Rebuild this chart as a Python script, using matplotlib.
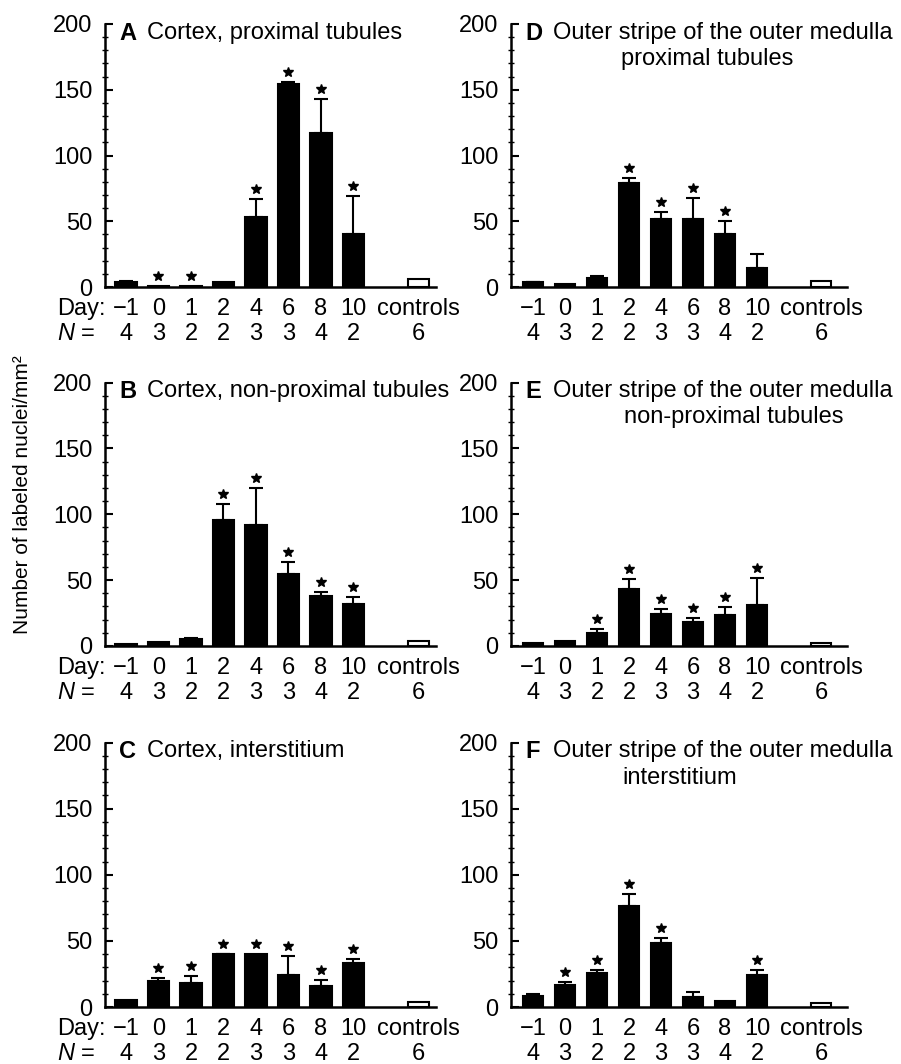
import matplotlib
matplotlib.use('Agg')
import matplotlib.pyplot as plt
from matplotlib.ticker import MultipleLocator
from matplotlib.transforms import offset_copy

plt.rcParams['font.family'] = ['Liberation Sans', 'DejaVu Sans']
plt.rcParams['mathtext.fontset'] = 'custom'
plt.rcParams['mathtext.rm'] = 'Liberation Sans'
plt.rcParams['mathtext.it'] = 'Liberation Sans:italic'

days = ['\u22121', '0', '1', '2', '4', '6', '8', '10', 'controls']
n_animals = [4, 3, 2, 2, 3, 3, 4, 2, 6]
xpos = [0, 1, 2, 3, 4, 5, 6, 7, 9]

# means and mean+SEM
a_mean = [4, 1, 0.5, 4, 53, 154, 117, 40, 6.3]
a_upper = [4.5, 1, 0.5, 4, 67, 156, 143, 69, 6.3]
a_star = [0, 1, 1, 0, 1, 1, 1, 1, 0]

b_mean = [1.3, 3.3, 5, 95.4, 92, 54.7, 38, 32, 3.8]
b_upper = [1.3, 3.3, 6, 108, 120, 64, 41, 37.5, 3.8]
b_star = [0, 0, 0, 1, 1, 1, 1, 1, 0]

c_mean = [5.3, 19.7, 18.2, 39.7, 40, 24, 16, 33.4, 3.8]
c_upper = [5.3, 22.3, 23.3, 40, 40, 38.2, 20.5, 36, 3.8]
c_star = [0, 1, 1, 1, 1, 1, 1, 1, 0]

d_mean = [3.5, 2, 6.5, 79, 51.5, 52, 40, 14.4, 4.8]
d_upper = [4, 2, 8.6, 83, 57, 68, 50, 25, 4.8]
d_star = [0, 0, 0, 1, 1, 1, 1, 0, 0]

e_mean = [2.5, 3.8, 9.8, 43.4, 24.5, 18.4, 23.5, 30.8, 2]
e_upper = [2.5, 3.8, 12.6, 50.5, 27.8, 21.2, 29.3, 51.5, 2]
e_star = [0, 0, 1, 1, 1, 1, 1, 1, 0]

f_mean = [8.4, 16.9, 25.6, 76.3, 48.4, 7.5, 4.5, 24.1, 3]
f_upper = [10, 18.6, 28, 85.5, 52.2, 11.2, 4.5, 27.8, 3]
f_star = [0, 1, 1, 1, 1, 0, 0, 1, 0]

W, H = 901, 1064
fig = plt.figure(figsize=(W / 100, H / 100), dpi=100)

PX = 72 / 100  # points per pixel

col_left = [105, 511]
col_right = [436, 847]
col_xlim = [(-0.646, 9.54), (-0.6875, 9.81)]
row_top = [24, 382.5, 742.5]
row_bot = [287, 646, 1007]

panels = [
    (0, 0, 'A', ['Cortex, proximal tubules'], a_mean, a_upper, a_star),
    (0, 1, 'B', ['Cortex, non-proximal tubules'], b_mean, b_upper, b_star),
    (0, 2, 'C', ['Cortex, interstitium'], c_mean, c_upper, c_star),
    (1, 0, 'D', ['Outer stripe of the outer medulla', 'proximal tubules'], d_mean, d_upper, d_star),
    (1, 1, 'E', ['Outer stripe of the outer medulla', 'non-proximal tubules'], e_mean, e_upper, e_star),
    (1, 2, 'F', ['Outer stripe of the outer medulla', 'interstitium'], f_mean, f_upper, f_star),
]
line2_center = {'D': 196, 'E': 223, 'F': 169}

for col, row, letter, title, mean, upper, star in panels:
    l, r = col_left[col], col_right[col]
    t, b = row_top[row], row_bot[row]
    ax = fig.add_axes([l / W, 1 - b / H, (r - l) / W, (b - t) / H])

    colors = ['black'] * 8 + ['white']
    ax.bar(xpos, mean, width=0.65, color=colors, edgecolor='black', linewidth=1.5, zorder=2)
    for x, m, u in zip(xpos, mean, upper):
        if u > m:
            ax.errorbar(x, m, yerr=[[0], [u - m]], fmt='none', ecolor='black',
                        elinewidth=1.5, capsize=5, capthick=1.5, zorder=3)

    # significance stars, ~10 px above the error bar
    star_tr = offset_copy(ax.transData, fig=fig, x=0, y=10 * PX, units='points')
    sx = [x for x, s in zip(xpos, star) if s]
    sy = [u for u, s in zip(upper, star) if s]
    ax.plot(sx, sy, linestyle='none', marker='*', markersize=7, color='black',
            transform=star_tr, clip_on=False)

    ax.set_xlim(*col_xlim[col])
    ax.set_ylim(0, 200)
    ax.set_xticks([])
    ax.yaxis.set_major_locator(MultipleLocator(50))
    ax.yaxis.set_minor_locator(MultipleLocator(10))
    ax.tick_params(axis='y', which='major', direction='in', length=6, width=1.5,
                   labelsize=17, pad=9)
    ax.tick_params(axis='y', which='minor', direction='inout', length=4, width=1)
    for sp in ['top', 'right']:
        ax.spines[sp].set_visible(False)
    ax.spines['left'].set_linewidth(1.8)
    ax.spines['bottom'].set_linewidth(1.8)

    # panel titles
    ax.annotate(letter, (0, 1), xycoords='axes fraction', xytext=(14 * PX, -9 * PX),
                textcoords='offset points', ha='left', va='center', fontsize=17,
                fontweight='bold')
    ax.annotate(title[0], (0, 1), xycoords='axes fraction', xytext=(42 * PX, -9 * PX),
                textcoords='offset points', ha='left', va='center', fontsize=17)
    if len(title) > 1:
        ax.annotate(title[1], (0, 1), xycoords='axes fraction',
                    xytext=(line2_center[letter] * PX, -35 * PX),
                    textcoords='offset points', ha='center', va='center', fontsize=17)

    # day and N rows below the axis
    for x, d, n in zip(xpos, days, n_animals):
        ax.annotate(d, (x, 0), xycoords=('data', 'axes fraction'), xytext=(0, -22 * PX),
                    textcoords='offset points', ha='center', va='center', fontsize=17)
        ax.annotate(str(n), (x, 0), xycoords=('data', 'axes fraction'), xytext=(0, -47 * PX),
                    textcoords='offset points', ha='center', va='center', fontsize=17)
    if col == 0:
        ax.annotate('Day:', (0, 0), xycoords='axes fraction', xytext=(-48 * PX, -22 * PX),
                    textcoords='offset points', ha='left', va='center', fontsize=17)
        ax.annotate('$N$ =', (0, 0), xycoords='axes fraction', xytext=(-48 * PX, -47 * PX),
                    textcoords='offset points', ha='left', va='center', fontsize=17)

fig.text(23 / W, 1 - 495 / H, 'Number of labeled nuclei/mm\u00b2', rotation=90,
         ha='center', va='center', fontsize=15)

fig.savefig('out.png', dpi=100)
